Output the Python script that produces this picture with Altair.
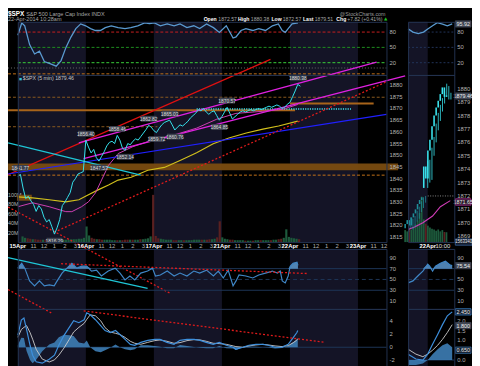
import altair as alt
import pandas as pd

FONT = "Liberation Sans"
SHADE = "#141426"
BORDER = "#233250"
LBL = "#b4b4b4"
W_T, H_T = 472, 360

# ------------------------------------------------------------------ data
day_labels = ["15Apr", "16Apr", "17Apr", "21Apr", "22Apr", "23Apr"]
hour_labels = ["11", "12", "1", "2", "3"]
hour_bars = [18, 30, 42, 54, 66]          # 5-min bars after the 9:30 open
BARS_PER_DAY = 78
X_MAX = 422.7

price_15m = [
    1841.0, 1841.8, 1836.0, 1831.5, 1832.5, 1830.5, 1829.0, 1826.0, 1828.5, 1827.0,
    1823.5, 1821.5, 1822.5, 1819.5, 1816.3, 1819.0, 1822.5, 1828.5, 1830.0, 1832.0,
    1834.0, 1838.5, 1840.0, 1842.0, 1842.5, 1843.0,
    1856.4, 1853.5, 1851.0, 1852.5, 1849.0, 1847.5, 1849.5, 1851.5, 1854.0, 1855.5,
    1856.0, 1855.0, 1858.5, 1856.5, 1853.0, 1852.1, 1855.0, 1854.5, 1856.0, 1857.0,
    1856.5, 1858.0, 1859.5, 1861.0, 1862.8, 1862.0,
    1860.5, 1859.7, 1861.5, 1863.0, 1864.0, 1864.5, 1865.0, 1863.0, 1860.8, 1862.0,
    1863.0, 1862.5, 1863.5, 1864.5, 1866.0, 1867.0, 1868.0, 1869.5, 1869.0, 1870.0,
    1868.5, 1867.5, 1868.5, 1869.0, 1867.0, 1865.0,
    1866.5, 1868.5, 1870.5, 1868.0, 1865.5, 1866.5, 1867.5, 1868.5, 1869.0, 1868.5,
    1869.0, 1869.5, 1869.0, 1869.5, 1870.0, 1869.5, 1870.0, 1870.5, 1871.0, 1870.5,
    1871.0, 1871.5, 1871.0, 1870.0, 1870.5, 1871.8,
    1872.6, 1875.0, 1877.5, 1880.3, 1879.5,
]
volume_15m = [   # millions
    12, 9, 8, 7, 6, 6, 5, 5, 5, 5, 5, 6, 5, 5, 7, 6, 5, 5, 5, 6, 6, 6, 7, 7, 9, 33,
    14, 9, 7, 6, 6, 5, 5, 5, 5, 4, 4, 4, 4, 4, 5, 5, 5, 5, 5, 5, 6, 6, 7, 8, 12, 100,
    13, 8, 7, 6, 5, 5, 5, 4, 4, 4, 4, 4, 4, 4, 4, 5, 5, 5, 5, 5, 5, 6, 6, 7, 10, 44,
    10, 7, 6, 5, 5, 4, 4, 4, 4, 3, 3, 3, 3, 4, 4, 4, 4, 4, 4, 4, 5, 5, 6, 7, 9, 27,
    11, 9, 8, 7, 6,
]
vol_ticks = [20, 40, 60, 80, 100]
price_ticks = list(range(1815, 1885, 5))
mini_price_ticks = list(range(1869, 1881))

ma_slow_bar = [0, 17, 36, 55, 70, 81, 92, 104, 115, 130, 141, 149, 168, 186, 205, 224, 242, 262, 281, 299, 321]
ma_slow_val = [1832.2, 1831.8, 1831.0, 1830.1, 1831.0, 1833.1, 1835.2, 1837.3, 1839.4, 1840.6, 1842.3,
               1843.6, 1844.8, 1847.8, 1851.1, 1854.9, 1857.4, 1859.5, 1861.2, 1862.5, 1864.6]
ma_fast_bar = [0, 17, 36, 55, 62, 73, 81, 89, 96, 104, 115, 132, 152, 183, 205, 228, 250, 281, 303, 321]
ma_fast_val = [1828.0, 1829.7, 1828.0, 1825.9, 1825.9, 1828.0, 1830.1, 1833.9, 1839.4, 1845.7, 1850.7,
               1853.7, 1856.2, 1859.1, 1861.6, 1865.4, 1867.9, 1868.8, 1869.6, 1871.7]

rsi_bar = [0, 4.5, 7.9, 13.5, 19.2, 24.8, 30.4, 36.1, 44, 49.6, 55.2, 60.9, 66.5, 72.1, 77.8, 83.4, 89,
           94.7, 100.3, 107.1, 115, 122.9, 129.6, 137.5, 145.4, 151, 156.7, 163.4, 171.3, 179.2, 186,
           193.9, 201.8, 208.5, 216.4, 224.3, 231.1, 239, 246.8, 250.2, 255.9, 261.5, 269.4, 276.2, 284,
           291.9, 298.7, 303.2, 306.6, 310, 314.5, 321.2]
rsi_val = [73.9, 97.9, 92.3, 55.5, 37.1, 42.6, 22.4, 18.7, 13.2, 24.2, 50.0, 70.2, 86.8, 96.0, 92.3, 86.8,
           83.1, 83.1, 88.7, 92.3, 88.7, 86.8, 88.7, 92.3, 97.9, 96.5, 97.9, 92.3, 96.0, 92.3, 96.0, 88.7,
           92.3, 86.8, 96.0, 88.7, 79.4, 92.3, 68.4, 70.5, 83.1, 86.8, 83.1, 86.8, 83.1, 92.3, 96.0, 83.1,
           79.4, 86.8, 96.0, 97.9]

lrsi_bar = [0, 4.5, 7.9, 13.5, 19.2, 24.8, 30.4, 36.1, 41.7, 45.1, 50.7, 56.4, 62, 67.6, 73.3, 78.9, 84.5,
            90.2, 95.8, 103.7, 111.6, 117.2, 122.9, 128.5, 134.1, 140.9, 148.8, 154.4, 157.8, 163.4, 171.3,
            179.2, 186, 193.9, 201.8, 208.5, 216.4, 224.3, 229.9, 235.6, 241.2, 246.8, 250.2, 253.6, 261.5,
            269.4, 276.2, 284, 291.9, 297.6, 300.9, 303.2, 306.6, 310, 312.3, 315.6, 320.1, 321.2]
lrsi_val = [70.9, 80, 70.9, 47.3, 38.2, 47.3, 38.2, 40, 38.2, 47.3, 61.8, 70.9, 80, 70.9, 74.5, 74.5, 65.5,
            67.3, 56.4, 65.5, 70.9, 61.8, 49.1, 56.4, 49.1, 61.8, 65.5, 70.9, 56.4, 58.2, 65.5, 56.4, 61.8,
            56.4, 65.5, 61.8, 67.3, 56.4, 65.5, 52.7, 67.3, 38.2, 47.3, 58.2, 56.4, 52.7, 58.2, 61.8, 65.5,
            61.8, 65.5, 47.3, 43.6, 56.4, 74.5, 80, 81.8, 76.0]

macd_bar = [0, 4, 7, 10, 14, 17, 21, 28, 36, 42, 47, 53, 59, 64, 70, 76, 79, 83, 89, 95, 100, 106, 112, 117,
            123, 129, 134, 141, 149, 157, 163, 171, 179, 186, 194, 202, 209, 216, 224, 231, 239, 247, 250,
            258, 265, 273, 281, 287, 295, 303, 310, 316, 320, 321]
macd_val = [1.8, 4.1, 4.4, 2.7, 0.3, -1.2, -2.2, -2.4, -1.8, -1.2, 0.3, 1.8, 3.0, 4.0, 3.7, 4.15, 5.2, 4.9,
            4.15, 3.26, 2.52, 2.22, 2.52, 1.93, 1.19, 0.44, 0.30, 0.74, 1.04, 1.19, 1.19, 0.74, 0.44, 1.04,
            1.19, 1.19, 1.04, 0.74, 0.44, 0.74, 0.30, 0.0, -0.30, 0.0, 0.30, 0.44, 0.44, 0.30, 0.0, 0.0, 0.44,
            1.48, 2.22, 2.52]
macd_sig = [1.5, 2.67, 3.0, 3.26, 2.22, 1.2, -0.3, -1.78, -2.22, -1.9, -1.2, -0.1, 1.19, 2.3, 3.0, 3.6, 4.2,
            4.89, 4.74, 4.0, 2.96, 2.3, 2.1, 1.93, 1.48, 0.9, 0.6, 0.45, 0.74, 1.0, 1.1, 0.9, 0.6, 0.7, 1.0,
            1.15, 1.1, 0.9, 0.6, 0.55, 0.44, 0.2, 0.1, 0.0, 0.2, 0.35, 0.44, 0.35, 0.2, 0.1, 0.25, 0.7, 1.1, 1.3]

zz_text = ["1841.77", "1816.29", "1856.40", "1847.53", "1858.46", "1852.14", "1862.82", "1859.72",
           "1865.03", "1860.76", "1864.85", "1870.57", "1880.38"]
zz_bar = [3, 42, 78, 93, 114, 123, 150, 159, 174, 180, 231, 240, 321]
zz_price = [1841.77, 1816.29, 1856.40, 1847.53, 1858.46, 1852.14, 1862.82, 1859.72, 1865.03, 1860.76,
            1864.85, 1870.57, 1880.38]
zz_side = [1, -1, 1, -1, 1, -1, 1, -1, 1, -1, -1, 1, 1]

tl_style = ["red", "magenta", "magenta", "blue", "cyan", "reddot", "reddot"]
tl_x1 = [-11.2, 69.9, 75.5, -11.2, -11.2, -11.2, 41.7]
tl_y1 = [1841.7, 1855.3, 1848.6, 1842.0, 1855.3, 1827.9, 1817.1]
tl_x2 = [289.7, 411.4, 444.1, 422.7, 140.9, 174.7, 422.7]
tl_y2 = [1891.0, 1889.8, 1883.9, 1867.5, 1841.5, 1791.0, 1881.4]
hl_style = ["greydot", "orangedash", "browndash", "orange", "orange", "cyandot", "browndash", "orangedash"]
hl_price = [1887.3, 1884.8, 1874.8, 1869.2, 1872.1, 1869.8, 1862.2, 1841.5]
hl_from = [-11.2, -11.2, -11.2, -11.2, 312, 205, -11.2, -11.2]
hl_to = [422.7, 422.7, 422.7, 317.9, 408, 382, 160, 422.7]
band_lo = [1843.6, 1830.6]
band_hi = [1846.5, 1833.1]
band_from = [-11.2, -1]
band_to = [436, 16]
lt_style = ["cyan", "reddot", "reddot"]
lt_x1 = [-11.2, -11.2, 49.6]
lt_y1 = [90.4, 31.3, 79.1]
lt_x2 = [148.8, 38.3, 332.5]
lt_y2 = [33.6, -11.8, 60.9]
mt_style = ["reddot"]
mt_x1, mt_y1, mt_x2, mt_y2 = [75.5], [5.48], [351.7], [0.74]

mini_bar = list(range(-9, 12))
mini_open = [1869.6, 1869.9, 1870.2, 1869.8, 1870.4, 1870.7, 1871.0, 1871.4, 1871.7,
             1872.6, 1874.2, 1873.3, 1875.4, 1876.2, 1877.2, 1878.0, 1878.6, 1879.1, 1879.6, 1880.1, 1879.4]
mini_high = [1870.1, 1870.4, 1870.3, 1870.5, 1870.9, 1871.2, 1871.6, 1871.9, 1872.0,
             1874.6, 1874.7, 1875.6, 1876.4, 1877.4, 1878.2, 1878.8, 1879.3, 1879.8, 1880.38, 1880.2, 1879.7]
mini_low = [1869.3, 1869.6, 1869.5, 1869.7, 1870.1, 1870.3, 1870.8, 1871.1, 1871.5,
            1872.6, 1873.0, 1873.2, 1875.0, 1876.0, 1876.9, 1877.6, 1878.3, 1878.9, 1879.4, 1879.2, 1879.2]
mini_close = [1869.9, 1870.2, 1869.8, 1870.4, 1870.7, 1871.0, 1871.4, 1871.7, 1871.9,
              1874.2, 1873.3, 1875.4, 1876.2, 1877.2, 1878.0, 1878.6, 1879.1, 1879.6, 1880.1, 1879.4, 1879.5]
mini_vol = [1.9, 1.7, 2.2, 2.0, 2.4, 2.8, 3.4, 4.6, 7.2,
            3.6, 2.9, 2.6, 2.3, 2.1, 2.0, 1.8, 2.0, 1.7, 1.9, 1.6, 1.56]
mini_ma_bar = [-9.3, -6, -2.3, 2.3, 6.0, 10.7]
mini_ma_val = [1869.5, 1869.7, 1870.0, 1870.5, 1871.2, 1871.65]
mini_rsi_bar = [-9.3, -7, -4.5, -2, 0, 2.3, 4.5, 7, 9.3, 11.6]
mini_rsi_val = [86.2, 80, 77, 80, 86, 92.3, 98.4, 95.5, 92.3, 95.9]
mini_lrsi_bar = [-9.3, -7, -4.7, -2.3, 0, 0.9, 2.3, 3.7, 6.0, 8.4, 10.7, 11.6]
mini_lrsi_val = [43.6, 47.3, 56.4, 65.5, 78.2, 74.5, 65.5, 74.5, 80.0, 83.6, 76.4, 75.5]
mini_macd_bar = [-9.3, -5.6, -2.3, 0, 2.3, 4.7, 7, 9.3, 11.6]
mini_macd_val = [0.3, 0.05, 0.0, 0.3, 0.8, 1.3, 1.8, 2.25, 2.45]
mini_macd_sig = [0.55, 0.3, 0.17, 0.3, 0.5, 0.75, 1.05, 1.4, 1.8]
mini_tick_bar = [0, 6]
mini_tick_text = ["22Apr", "10:00"]
MINI_MIN, MINI_MAX = -9.3, 12.6

# ------------------------------------------------------------------ panel geometry (pixels)
LX0, LX1 = 10, 385
RX0, RX1 = 407, 454
P_RSI, P_PX, P_LRSI, P_MACD = (11, 65), (65, 235), (242, 303), (303, 375)


def xscale(lo, hi, a, b):
    u = (hi - lo) / (b - a)
    return alt.Scale(domain=[lo - a * u, hi + (W_T - b) * u], nice=False, zero=False)


def yscale(lo, hi, box):
    top, bottom = box
    u = (hi - lo) / (bottom - top)
    return alt.Scale(domain=[lo - (H_T - bottom) * u, hi + top * u], nice=False, zero=False)


def per_px(lo, hi, box):
    return (hi - lo) / (box[1] - box[0])


xL = xscale(0, X_MAX, LX0, LX1)
xR = xscale(MINI_MIN, MINI_MAX, RX0, RX1)
R_RSI = (-4, 100)
R_PX = (1812.9, 1884.33)
R_VOL = (0, 354)
R_LRSI = (-4.5, 106.4)
R_MACD = (-4.89, 5.78)
R_MPX = (1868.56, 1881.03)
R_MVOL = (0, 26.5)
R_MMACD = (-1.0, 2.6)
y_rsi = yscale(*R_RSI, P_RSI)
y_px = yscale(*R_PX, P_PX)
y_vol = yscale(*R_VOL, P_PX)
y_lrsi = yscale(*R_LRSI, P_LRSI)
y_macd = yscale(*R_MACD, P_MACD)
y_mpx = yscale(*R_MPX, P_PX)
y_mvol = yscale(*R_MVOL, P_PX)
y_mmacd = yscale(*R_MMACD, P_MACD)

styles = {
    "red": dict(color="#e01010", strokeWidth=1.2),
    "magenta": dict(color="#e021e0", strokeWidth=1.3),
    "blue": dict(color="#2020ff", strokeWidth=1.2),
    "cyan": dict(color="#1fc6d6", strokeWidth=1.2),
    "reddot": dict(color="#e21b1b", strokeWidth=1.3, strokeDash=[2, 2]),
    "greydot": dict(color="#6a6a6a", strokeWidth=1, strokeDash=[1, 2]),
    "orangedash": dict(color="#c77418", strokeWidth=1, strokeDash=[3, 2]),
    "browndash": dict(color="#8c5b1f", strokeWidth=1, strokeDash=[3, 2]),
    "orange": dict(color="#a8641a", strokeWidth=2),
    "cyandot": dict(color="#3ee3f0", strokeWidth=1.6, strokeDash=[1.2, 1.2]),
}
ONE = pd.DataFrame({"a": [0]})
UP, DN = "#1d5a3c", "#5a2020"


# ------------------------------------------------------------------ builders
def X(field, xs):
    return alt.X(field, type="quantitative", scale=xs, axis=None)


def Y(field, ys):
    return alt.Y(field, type="quantitative", scale=ys, axis=None)


def shade(df, xs, box):
    return alt.Chart(df).mark_rect(color=SHADE).encode(
        x=X("start", xs), x2="end", y=alt.value(box[0]), y2=alt.value(box[1]))


def border(x0, x1, box):
    return alt.Chart(ONE).mark_rect(fillOpacity=0, stroke=BORDER, strokeWidth=1).encode(
        x=alt.value(x0 + 0.5), x2=alt.value(x1 + 0.5), y=alt.value(box[0] + 0.5), y2=alt.value(box[1] + 0.5))


def hrule(vals, ys, x0, x1, color, dash=None, width=1):
    mk = dict(color=color, strokeWidth=width)
    if dash:
        mk["strokeDash"] = dash
    return alt.Chart(pd.DataFrame({"v": vals})).mark_rule(**mk).encode(
        x=alt.value(x0), x2=alt.value(x1), y=Y("v", ys))


def ylabels(vals, texts, ys, xpos, size=6, color=LBL, align="left"):
    df = pd.DataFrame({"v": vals, "t": texts})
    return alt.Chart(df).mark_text(align=align, baseline="middle", font=FONT, fontSize=size,
                                   color=color).encode(x=alt.value(xpos), y=Y("v", ys), text="t:N")


def xlabels(bars, texts, xs, color, bold, align="center", dx=0):
    df = pd.DataFrame({"bar": bars, "t": texts})
    return alt.Chart(df).mark_text(baseline="top", font=FONT, fontSize=6, color=color, align=align, dx=dx,
                                   fontWeight="bold" if bold else "normal").encode(
        x=X("bar", xs), y=alt.value(P_PX[1] + 1.5), text="t:N")


def label(t, px, py, size, color, bold=False, align="left", font=FONT):
    return alt.Chart(pd.DataFrame({"t": [t]})).mark_text(
        align=align, baseline="top", font=font, fontSize=size, color=color,
        fontWeight="bold" if bold else "normal").encode(x=alt.value(px), y=alt.value(py), text="t:N")


def segs(df, xs, ys):
    out = []
    for s in df["style"].unique():
        sub = df[df["style"] == s].reset_index(drop=True)
        out.append(alt.Chart(sub).mark_rule(**styles[s]).encode(
            x=X("x1", xs), x2="x2", y=Y("y1", ys), y2="y2"))
    return out


def line(xv, yv, xs, ys, **mk):
    return alt.Chart(pd.DataFrame({"x": xv, "y": yv})).mark_line(**mk).encode(x=X("x", xs), y=Y("y", ys))


def fill_above(xv, yv, xs, ys, lvl, color):
    df = pd.DataFrame({"x": xv, "hi": [max(v, lvl) for v in yv], "lo": [lvl] * len(xv)})
    return alt.Chart(df).mark_area(color=color, opacity=0.85).encode(x=X("x", xs), y=Y("hi", ys), y2="lo")


def hist(xv, a, b, xs, ys, color):
    df = pd.DataFrame({"x": xv, "h": [p - q for p, q in zip(a, b)], "z": [0.0] * len(xv)})
    return alt.Chart(df).mark_area(color=color, opacity=0.9).encode(x=X("x", xs), y=Y("h", ys), y2="z")


def tag(val, txt, ys, rng, box, fill, stroke, fg, size=5.5, w=16):
    h = 3.2 * per_px(*rng, box)
    df = pd.DataFrame({"hi": [val + h], "lo": [val - h], "v": [val], "t": [txt]})
    return [alt.Chart(df).mark_rect(color=fill, stroke=stroke, strokeWidth=0.7).encode(
                x=alt.value(RX1 + 1), x2=alt.value(RX1 + 1 + w), y=Y("hi", ys), y2="lo"),
            alt.Chart(df).mark_text(font=FONT, fontSize=size, color=fg).encode(
                x=alt.value(RX1 + 1 + w / 2), y=Y("v", ys), text="t:N")]


# ------------------------------------------------------------------ frames
px_df = pd.DataFrame({"bar": [3 * i for i in range(len(price_15m))], "price": price_15m, "vol": volume_15m})
px_df["vc"] = [UP if d >= 0 else DN for d in px_df["price"].diff().fillna(0)]
shade_main = pd.DataFrame({"start": [0, 156, 312], "end": [78, 234, 390]})
shade_mini = pd.DataFrame({"start": [MINI_MIN], "end": [0]})

day_tick_bar, day_tick_text, hr_tick_bar, hr_tick_text = [], [], [], []
for d, name in enumerate(day_labels):
    if d * BARS_PER_DAY <= X_MAX:
        day_tick_bar.append(d * BARS_PER_DAY)
        day_tick_text.append(name)
    for off, lab in zip(hour_bars, hour_labels):
        b = d * BARS_PER_DAY + off
        if b <= X_MAX:
            hr_tick_bar.append(b)
            hr_tick_text.append(lab)

tl_df = pd.DataFrame({"style": tl_style, "x1": tl_x1, "y1": tl_y1, "x2": tl_x2, "y2": tl_y2})
hl_df = pd.DataFrame({"style": hl_style, "x1": hl_from, "x2": hl_to, "y1": hl_price})
band_df = pd.DataFrame({"x1": band_from, "x2": band_to, "y1": band_lo, "y2": band_hi})
lt_df = pd.DataFrame({"style": lt_style, "x1": lt_x1, "y1": lt_y1, "x2": lt_x2, "y2": lt_y2})
mt_df = pd.DataFrame({"style": mt_style, "x1": mt_x1, "y1": mt_y1, "x2": mt_x2, "y2": mt_y2})

bx = 8.0 * per_px(0, X_MAX, (LX0, LX1))
by = 3.0 * per_px(*R_PX, P_PX)
zz_ly = [p + s * 2.8 for p, s in zip(zz_price, zz_side)]
zz_df = pd.DataFrame({"t": zz_text, "bar": zz_bar, "ly": zz_ly,
                      "x1": [b - bx for b in zz_bar], "x2": [b + bx for b in zz_bar],
                      "y1": [v - by for v in zz_ly], "y2": [v + by for v in zz_ly]})

mini_df = pd.DataFrame({"bar": mini_bar, "o": mini_open, "h": mini_high, "l": mini_low, "c": mini_close,
                        "v": mini_vol})
mini_df["vc"] = [UP if c >= o else DN for o, c in zip(mini_open, mini_close)]
mini_df["cc"] = ["#1f8e98" if b < 0 else "#3ae4ee" for b in mini_bar]

layers = []
# ---- backgrounds
for box in (P_RSI, P_PX, P_LRSI, P_MACD):
    layers += [shade(shade_main, xL, box), shade(shade_mini, xR, box)]

# ---- header
H2 = 5.2
layers += [
    label("$SPX", 0, 0, 6.5, "#ffffff", bold=True),
    label("S&P 500 Large Cap Index INDX", 18.5, 0.6, 5.6, "#a8a8a8"),
    label("@StockCharts.com", 384, 0.6, 5.4, "#9a9a9a", align="right"),
    label("22-Apr-2014 10:28am", 0, 6.2, 5.6, "#a8a8a8"),
    label("Open", 199, 6.2, H2, "#ffffff", bold=True),
    label("1872.57", 214, 6.2, H2, "#a8a8a8"),
    label("High", 234, 6.2, H2, "#ffffff", bold=True),
    label("1880.38", 247, 6.2, H2, "#a8a8a8"),
    label("Low", 268, 6.2, H2, "#ffffff", bold=True),
    label("1872.57", 279.5, 6.2, H2, "#a8a8a8"),
    label("Last", 300, 6.2, H2, "#ffffff", bold=True),
    label("1879.51", 312, 6.2, H2, "#a8a8a8"),
    label("Chg", 334, 6.2, H2, "#ffffff", bold=True),
    label("+7.82 (+0.41%)", 345, 6.2, H2, "#a8a8a8"),
    label("\u25b2", 382.5, 6.4, 4.4, "#22c322", font="DejaVu Sans"),
]

# ---- top RSI
layers += [
    hrule([80], y_rsi, LX0, LX1, "#c82020", [3, 2]),
    hrule([50], y_rsi, LX0, LX1, "#1f8f1f", [3, 2]),
    hrule([20], y_rsi, LX0, LX1, "#3ad03a", [3, 2]),
    hrule([80, 50, 20], y_rsi, RX0, RX1, "#22345a", [2, 2]),
    line(rsi_bar, rsi_val, xL, y_rsi, color="#5a9ad0", strokeWidth=1.3),
    line(mini_rsi_bar, mini_rsi_val, xR, y_rsi, color="#5a9ad0", strokeWidth=1.3),
    ylabels([20, 50, 80], ["20", "50", "80"], y_rsi, LX1 + 3),
    ylabels([20, 50, 80], ["20", "50", "80"], y_rsi, RX1 + 3),
    *tag(95.92, "95.92", y_rsi, R_RSI, P_RSI, "#3f4552", "#3f4552", "#e8e8e8"),
]

# ---- price (left)
layers += [
    alt.Chart(px_df).mark_bar(size=2.2).encode(
        x=X("bar", xL), y=Y("vol", y_vol), color=alt.Color("vc:N", scale=None)),
    ylabels(vol_ticks, [f"{v}M" for v in vol_ticks], y_vol, 0, size=5.5),
    alt.Chart(band_df).mark_rect(color="#7a4c10", opacity=0.95).encode(
        x=X("x1", xL), x2="x2", y=Y("y1", y_px), y2="y2"),
]
for s in hl_df["style"].unique():
    sub = hl_df[hl_df["style"] == s].reset_index(drop=True)
    layers.append(alt.Chart(sub).mark_rule(**styles[s]).encode(x=X("x1", xL), x2="x2", y=Y("y1", y_px)))
layers += [
    line(ma_slow_bar, ma_slow_val, xL, y_px, color="#d2c01c", strokeWidth=1.2),
    line(ma_fast_bar, ma_fast_val, xL, y_px, color="#cf3fb4", strokeWidth=1),
    *segs(tl_df, xL, y_px),
    alt.Chart(px_df).mark_line(color="#35e3ee", strokeWidth=1).encode(x=X("bar", xL), y=Y("price", y_px)),
    alt.Chart(zz_df).mark_rect(color="#3c414f").encode(x=X("x1", xL), x2="x2", y=Y("y1", y_px), y2="y2"),
    alt.Chart(zz_df).mark_text(font=FONT, fontSize=5, color="#dadada").encode(
        x=X("bar", xL), y=Y("ly", y_px), text="t:N"),
    ylabels(price_ticks, [str(v) for v in price_ticks], y_px, LX1 + 3),
    xlabels(day_tick_bar, day_tick_text, xL, "#ffffff", True),
    xlabels(hr_tick_bar, hr_tick_text, xL, "#b4b4b4", False),
    label("$SPX (5 min) 1879.46", 15, P_PX[0] + 1.5, 5.3, "#c8c8c8"),
    alt.Chart(ONE).mark_rect(color="#35c6d6").encode(
        x=alt.value(11.5), x2=alt.value(14), y=alt.value(P_PX[0] + 3), y2=alt.value(P_PX[0] + 5.5)),
]

# ---- price (right)
layers += [
    alt.Chart(mini_df).mark_bar(size=1.8).encode(
        x=X("bar", xR), y=Y("v", y_mvol), color=alt.Color("vc:N", scale=None)),
    alt.Chart(pd.DataFrame({"x1": [0], "x2": [MINI_MAX], "y": [1872.0]})).mark_rule(
        color="#8a8a8a", strokeDash=[1, 1.5]).encode(x=X("x1", xR), x2="x2", y=Y("y", y_mpx)),
    line(mini_ma_bar, mini_ma_val, xR, y_mpx, color="#d23cb8", strokeWidth=1.1),
    alt.Chart(mini_df).mark_rule(strokeWidth=0.8).encode(
        x=X("bar", xR), y=Y("l", y_mpx), y2="h", color=alt.Color("cc:N", scale=None)),
    alt.Chart(mini_df).mark_bar(size=1.6).encode(
        x=X("bar", xR), y=Y("o", y_mpx), y2="c", color=alt.Color("cc:N", scale=None)),
    ylabels(mini_price_ticks, [str(v) for v in mini_price_ticks], y_mpx, RX1 + 3),
    xlabels(mini_tick_bar[:1], mini_tick_text[:1], xR, "#ffffff", True),
    xlabels(mini_tick_bar[1:], mini_tick_text[1:], xR, "#e0e0e0", False, align="left", dx=-5),
    *tag(1879.46, "1879.46", y_mpx, R_MPX, P_PX, "#3f4552", "#3f4552", "#f0f0f0"),
    *tag(1871.55, "1871.65", y_mpx, R_MPX, P_PX, "#2a1a2a", "#d23cb8", "#e8e8e8"),
    *tag(R_MPX[0], "1563340", y_mpx, R_MPX, P_PX, "#141c2c", "#3e6fb0", "#e8e8e8", size=4.5, w=17),
]

# ---- lower RSI
layers += [
    hrule([70, 30], y_lrsi, LX0, LX1, "#1e3658"),
    hrule([50], y_lrsi, LX0, LX1, "#1e3658", [4, 3]),
    fill_above(lrsi_bar, lrsi_val, xL, y_lrsi, 70, "#5c98cf"),
    line(lrsi_bar, lrsi_val, xL, y_lrsi, color="#3f86c6", strokeWidth=1.2),
    ylabels([10, 30, 50, 70, 90], ["10", "30", "50", "70", "90"], y_lrsi, LX1 + 3),
    hrule([70, 30], y_lrsi, RX0, RX1, "#1e3658"),
    hrule([50], y_lrsi, RX0, RX1, "#1e3658", [4, 3]),
    fill_above(mini_lrsi_bar, mini_lrsi_val, xR, y_lrsi, 70, "#5c98cf"),
    line(mini_lrsi_bar, mini_lrsi_val, xR, y_lrsi, color="#3f86c6", strokeWidth=1.2),
    ylabels([10, 30, 50, 90], ["10", "30", "50", "90"], y_lrsi, RX1 + 3),
    *segs(lt_df, xL, y_lrsi),
    *tag(75.54, "75.54", y_lrsi, R_LRSI, P_LRSI, "#3f4552", "#3f4552", "#f0f0f0"),
]

# ---- MACD
layers += [
    hrule([0], y_macd, LX0, LX1, "#1e3658"),
    hist(macd_bar, macd_val, macd_sig, xL, y_macd, "#3d7db5"),
    line(macd_bar, macd_sig, xL, y_macd, color="#cfcfcf", strokeWidth=0.9),
    line(macd_bar, macd_val, xL, y_macd, color="#3d8fdc", strokeWidth=1.2),
    *segs(mt_df, xL, y_macd),
    ylabels([-2, 0, 2, 4], ["-2", "0", "2", "4"], y_macd, LX1 + 3),
    hrule([0], y_mmacd, RX0, RX1, "#1e3658"),
    hist(mini_macd_bar, mini_macd_val, mini_macd_sig, xR, y_mmacd, "#3d7db5"),
    line(mini_macd_bar, mini_macd_sig, xR, y_mmacd, color="#cfcfcf", strokeWidth=0.9),
    line(mini_macd_bar, mini_macd_val, xR, y_mmacd, color="#3d8fdc", strokeWidth=1.2),
    ylabels([0, 1.0, 1.5, 2.0], ["0.0", "1.0", "1.5", "2.0"], y_mmacd, RX1 + 3),
    *tag(2.45, "2.450", y_mmacd, R_MMACD, P_MACD, "#141c2c", "#3d8fdc", "#e8e8e8"),
    *tag(1.75, "1.800", y_mmacd, R_MMACD, P_MACD, "#3f4552", "#3f4552", "#f0f0f0"),
    *tag(0.5, "0.650", y_mmacd, R_MMACD, P_MACD, "#141c2c", "#3d7db5", "#e8e8e8"),
]

# ---- panel borders
for box in (P_RSI, P_PX, P_LRSI, P_MACD):
    layers += [border(LX0, LX1, box), border(RX0, RX1, box)]

chart = alt.layer(*layers).resolve_scale(x="independent", y="independent").properties(
    width=W_T, height=H_T, padding=0, background="#000000",
    autosize=alt.AutoSizeParams(type="none"),
).configure_view(stroke="transparent")

chart.save("out.html", embed_options={"renderer": "svg", "actions": False})
